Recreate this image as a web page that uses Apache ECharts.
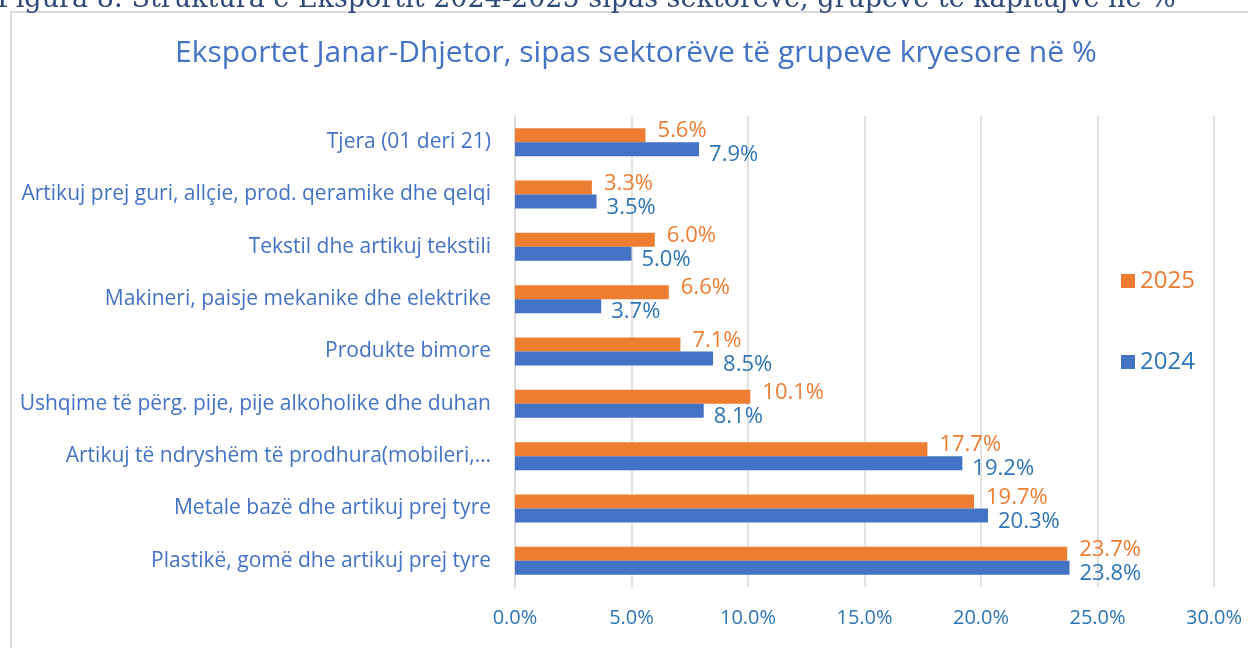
<!DOCTYPE html>
<html>
<head>
<meta charset="utf-8">
<script src="https://cdn.jsdelivr.net/npm/echarts@6/dist/echarts.min.js"></script>
<style>
  html, body { margin: 0; padding: 0; background: #fff; }
  #main { width: 1248px; height: 648px; }
</style>
</head>
<body>
<div id="main"></div>
<script>
// categories, bottom to top as drawn on the y axis
var categories = [
  'Plastikë, gomë dhe artikuj prej tyre',
  'Metale bazë dhe artikuj prej tyre',
  'Artikuj të ndryshëm të prodhura(mobileri,…',
  'Ushqime të përg. pije, pije alkoholike dhe duhan',
  'Produkte bimore',
  'Makineri, paisje mekanike dhe elektrike',
  'Tekstil dhe artikuj tekstili',
  'Artikuj prej guri, allçie, prod. qeramike dhe qelqi',
  'Tjera (01 deri 21)'
];
var values2024 = [23.8, 20.3, 19.2, 8.1, 8.5, 3.7, 5.0, 3.5, 7.9];
var values2025 = [23.7, 19.7, 17.7, 10.1, 7.1, 6.6, 6.0, 3.3, 5.6];
var xTicks = [0, 5, 10, 15, 20, 25, 30];

var orange = '#ED7D31';
var blue = '#4472C4';
var blueText = '#2E75B6';
var font = 'Open Sans';

var chartDom = document.getElementById('main');
var myChart = echarts.init(chartDom);

function pct(v) { return v.toFixed(1) + '%'; }

var option = {
  animation: false,
  textStyle: { fontFamily: font },
  graphic: [
    {
      type: 'rect',
      shape: { x: 11, y: 12, width: 1260, height: 660 },
      style: { fill: 'none', stroke: '#d9d9d9', lineWidth: 2 }
    },
    {
      type: 'text',
      x: -3,
      y: 13,
      style: {
        text: 'Figura 8: Struktura e Eksportit 2024-2025 sipas sektorëve, grupeve të kapitujve në %',
        font: '27px "DejaVu Serif"',
        fill: '#2F4A7A',
        verticalAlign: 'bottom'
      }
    }
  ],
  title: {
    text: 'Eksportet Janar-Dhjetor, sipas sektorëve të grupeve kryesore në %',
    left: 170,
    top: 33,
    textStyle: { color: blue, fontSize: 30, fontWeight: 'normal', fontFamily: font }
  },
  legend: {
    orient: 'vertical',
    left: 1116,
    top: 264,
    itemGap: 57,
    itemWidth: 14,
    itemHeight: 14,
    icon: 'rect',
    data: [
      { name: '2025', textStyle: { color: orange } },
      { name: '2024', textStyle: { color: blueText } }
    ],
    textStyle: { fontSize: 24, fontFamily: font }
  },
  grid: { left: 515, right: 34, top: 116, bottom: 61 },
  xAxis: {
    type: 'value',
    min: xTicks[0],
    max: xTicks[xTicks.length - 1],
    interval: 5,
    axisLine: { show: false },
    axisTick: { show: false },
    splitLine: { lineStyle: { color: '#d9d9d9', width: 1.5 } },
    axisLabel: {
      margin: 21,
      color: blueText,
      fontSize: 20,
      formatter: pct
    }
  },
  yAxis: {
    type: 'category',
    data: categories,
    axisLine: { show: true, lineStyle: { color: '#d9d9d9', width: 1.5 } },
    axisTick: { show: false },
    axisLabel: { margin: 24, color: blue, fontSize: 21 }
  },
  series: [
    {
      name: '2025',
      type: 'bar',
      data: values2025,
      barWidth: 14,
      barGap: '0%',
      itemStyle: { color: orange },
      label: {
        show: true,
        position: 'right',
        distance: 12,
        offset: [0, -4],
        color: orange,
        fontSize: 22,
        formatter: function (p) { return pct(p.value); }
      }
    },
    {
      name: '2024',
      type: 'bar',
      data: values2024,
      barWidth: 14,
      barGap: '0%',
      itemStyle: { color: blue },
      label: {
        show: true,
        position: 'right',
        distance: 10,
        offset: [0, 6],
        color: blueText,
        fontSize: 22,
        formatter: function (p) { return pct(p.value); }
      }
    }
  ]
};

myChart.setOption(option);
</script>
</body>
</html>
